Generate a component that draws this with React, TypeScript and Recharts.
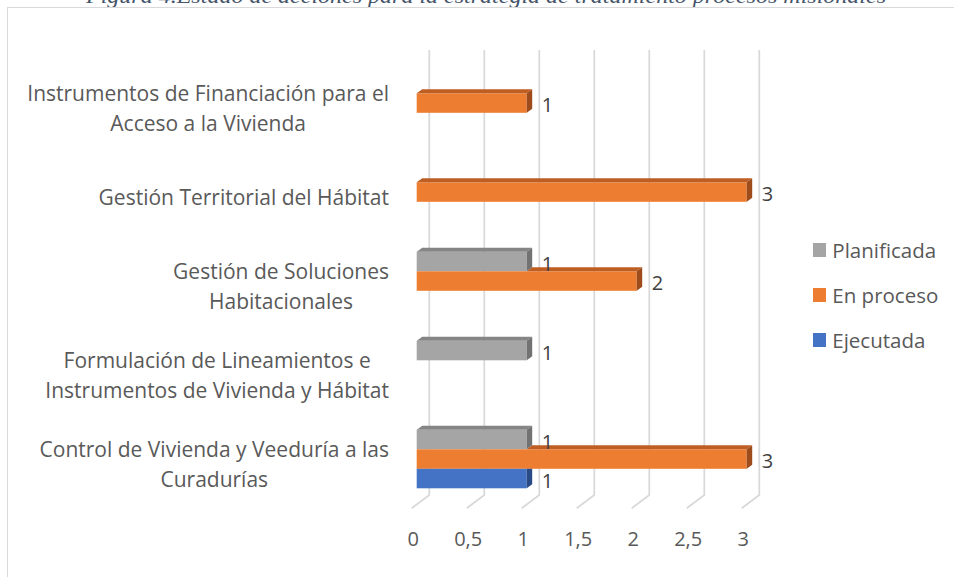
import React from 'react'
import {
  BarChart,
  Bar,
  XAxis,
  YAxis,
  CartesianGrid,
  LabelList,
} from 'recharts'

// ---------------------------------------------------------------------------
// Data
// ---------------------------------------------------------------------------
const categories = [
  'Instrumentos de Financiación para el Acceso a la Vivienda',
  'Gestión Territorial del Hábitat',
  'Gestión de Soluciones Habitacionales',
  'Formulación de Lineamientos e Instrumentos de Vivienda y Hábitat',
  'Control de Vivienda y Veeduría a las Curadurías',
]

// how Excel wrapped each category label
const categoryLines = [
  ['Instrumentos de Financiación para el', 'Acceso a la Vivienda'],
  ['Gestión Territorial del Hábitat'],
  ['Gestión de Soluciones', 'Habitacionales'],
  ['Formulación de Lineamientos e', 'Instrumentos de Vivienda y Hábitat'],
  ['Control de Vivienda y Veeduría a las', 'Curadurías'],
]

const planificada = [null, null, 1, 1, 1]
const enProceso = [1, 3, 2, null, 3]
const ejecutada = [null, null, null, null, 1]

const seriesKeys = ['planificada', 'enProceso', 'ejecutada'] as const
const seriesNames = ['Planificada', 'En proceso', 'Ejecutada']

const xTicks = [0, 0.5, 1, 1.5, 2, 2.5, 3]

const TITLE =
  'Figura 4.Estado de acciones para la estrategia de tratamiento procesos misionales'

const data = categories.map((name, i) => ({
  name,
  planificada: planificada[i],
  enProceso: enProceso[i],
  ejecutada: ejecutada[i],
}))

// ---------------------------------------------------------------------------
// Styling
// ---------------------------------------------------------------------------
const FONT = '"Open Sans", Lato, sans-serif'
const FS_CAT = 21
const FS = 20
const TEXT = '#595959'
const DX = 5.5
const DY = 4

const COLORS = {
  planificada: { front: '#A5A5A5', top: '#858585', side: '#727272' },
  enProceso: { front: '#ED7D31', top: '#BE5E23', side: '#9E4C1B' },
  ejecutada: { front: '#4472C4', top: '#2F5597', side: '#2A4A85' },
}

let ctx: CanvasRenderingContext2D | null = null
function measure(text: string, size: number) {
  if (!ctx) ctx = document.createElement('canvas').getContext('2d')
  if (!ctx) return text.length * size * 0.5
  ctx.font = `${size}px ${FONT}`
  return ctx.measureText(text).width
}

// ---------------------------------------------------------------------------
// 3D-looking bar (front, top and side faces like the Excel original)
// ---------------------------------------------------------------------------
function make3DBar(key: keyof typeof COLORS, aboveKey?: keyof typeof COLORS) {
  const c = COLORS[key]
  return (props: any) => {
    const { x, y, width, height, payload } = props
    const v = payload?.[key]
    if (v == null || !width || width <= 0 || height <= 0) return <g />
    const end = x + width
    let aboveEnd = x
    const av = aboveKey ? payload?.[aboveKey] : null
    if (av != null) aboveEnd = x + (width * av) / v
    const startTop = Math.max(x, aboveEnd)
    const covered = aboveEnd >= end + DX

    return (
      <g>
        <rect x={x} y={y} width={width} height={height} fill={c.front} />
        {startTop < end && (
          <polygon
            points={`${startTop},${y} ${startTop + DX},${y - DY} ${end + DX},${y - DY} ${end},${y}`}
            fill={c.top}
          />
        )}
        <polygon
          points={
            covered
              ? `${end},${y} ${end + DX},${y} ${end + DX},${y + height - DY} ${end},${y + height}`
              : `${end},${y} ${end + DX},${y - DY} ${end + DX},${y + height - DY} ${end},${y + height}`
          }
          fill={c.side}
        />
      </g>
    )
  }
}

function ValueLabel(props: any) {
  const { x, y, width, height, value } = props
  if (value == null || value === 0) return null
  return (
    <text
      x={x + width + 15}
      y={y + height / 2 + 1.5}
      fill="#404040"
      fontSize={FS}
      fontFamily={FONT}
      dominantBaseline="central"
    >
      {value}
    </text>
  )
}

// ---------------------------------------------------------------------------
// Axes ticks, grid, legend
// ---------------------------------------------------------------------------
function CategoryTick(props: any) {
  const { y, index } = props
  const lines = categoryLines[index] ?? [props.payload?.value]
  const blockW = Math.max(...lines.map((l: string) => measure(l, FS_CAT)))
  const cx = 389 - blockW / 2
  const lh = 30
  const y0 = y + 4.5 - ((lines.length - 1) * lh) / 2
  return (
    <g>
      {lines.map((l: string, i: number) => (
        <text
          key={i}
          x={cx}
          y={y0 + i * lh}
          textAnchor="middle"
          dominantBaseline="central"
          fill={TEXT}
          fontSize={FS_CAT}
          fontFamily={FONT}
        >
          {l}
        </text>
      ))}
    </g>
  )
}

function ValueTick(props: any) {
  const { x, y, payload } = props
  return (
    <text
      x={x - 3.5}
      y={y + 34.5}
      textAnchor="middle"
      dominantBaseline="central"
      fill={TEXT}
      fontSize={FS}
      fontFamily={FONT}
    >
      {String(payload.value).replace('.', ',')}
    </text>
  )
}

// back wall line + floor diagonal for each x tick
function GridLine(props: any) {
  const { x1, y1, y2 } = props
  const bx = x1 + 12.6
  return (
    <path
      d={`M${bx},${y1 - 8.8} L${bx},${y2 - 8.8} L${x1 - 5},${y2 + 4.5}`}
      fill="none"
      stroke="#D9D9D9"
      strokeWidth={1.75}
    />
  )
}

function ChartLegend() {
  return (
    <div style={{ position: 'absolute', left: 813, top: 227.5, fontFamily: FONT }}>
      {seriesKeys.map((k, i) => (
        <div key={k} style={{ display: 'flex', alignItems: 'center', height: 45 }}>
          <span
            style={{
              width: 13.3,
              height: 13.3,
              background: COLORS[k].front,
              display: 'inline-block',
              marginRight: 6,
            }}
          />
          <span style={{ color: TEXT, fontSize: 20.5, whiteSpace: 'nowrap' }}>
            {seriesNames[i]}
          </span>
        </div>
      ))}
    </div>
  )
}

// ---------------------------------------------------------------------------
// Component
// ---------------------------------------------------------------------------
export default function App() {
  return (
    <div
      style={{
        position: 'absolute',
        left: 0,
        top: 0,
        width: 954,
        height: 577,
        background: '#fff',
        overflow: 'hidden',
      }}
    >
      <svg
        width={954}
        height={577}
        style={{ position: 'absolute', left: 0, top: 0, pointerEvents: 'none' }}
      >
        <text
          x={486}
          y={2.5}
          textAnchor="middle"
          fill="#44546A"
          fontSize={22}
          fontStyle="italic"
          fontFamily='"Liberation Serif", "DejaVu Serif", serif'
          textLength={800}
          lengthAdjust="spacingAndGlyphs"
        >
          {TITLE}
        </text>
        <rect
          x={7.5}
          y={7.5}
          width={960}
          height={600}
          fill="none"
          stroke="#D9D9D9"
          strokeWidth={1}
        />
      </svg>
      <BarChart
        width={954}
        height={577}
        data={data}
        layout="vertical"
        margin={{ top: 58.8, right: 207.3, left: 0, bottom: 33.2 }}
        barGap={0}
        barSize={19.5}
        style={{ position: 'absolute', left: 0, top: 0 }}
      >
        <CartesianGrid horizontal={false} vertical={GridLine} />
        <XAxis
          type="number"
          domain={[0, 3]}
          ticks={xTicks}
          interval={0}
          axisLine={false}
          tickLine={false}
          tickSize={0}
          tickMargin={0}
          height={40}
          tick={ValueTick}
        />
        <YAxis
          type="category"
          dataKey="name"
          width={416.7}
          axisLine={false}
          tickLine={false}
          tickSize={0}
          tickMargin={0}
          interval={0}
          tick={CategoryTick}
        />
        <Bar
          dataKey="planificada"
          name={seriesNames[0]}
          fill={COLORS.planificada.front}
          shape={make3DBar('planificada')}
          isAnimationActive={false}
        >
          <LabelList dataKey="planificada" content={ValueLabel} />
        </Bar>
        <Bar
          dataKey="enProceso"
          name={seriesNames[1]}
          fill={COLORS.enProceso.front}
          shape={make3DBar('enProceso', 'planificada')}
          isAnimationActive={false}
        >
          <LabelList dataKey="enProceso" content={ValueLabel} />
        </Bar>
        <Bar
          dataKey="ejecutada"
          name={seriesNames[2]}
          fill={COLORS.ejecutada.front}
          shape={make3DBar('ejecutada', 'enProceso')}
          isAnimationActive={false}
        >
          <LabelList dataKey="ejecutada" content={ValueLabel} />
        </Bar>
      </BarChart>
      <ChartLegend />
    </div>
  )
}
